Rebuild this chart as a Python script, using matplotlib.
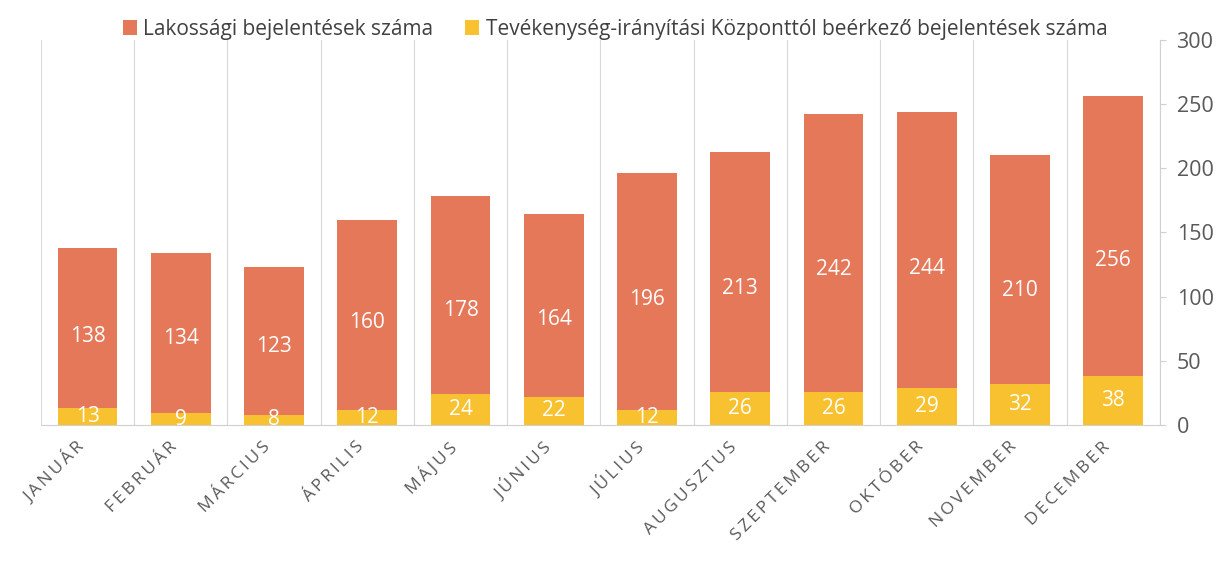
import matplotlib.pyplot as plt
import matplotlib.transforms as mtransforms
import numpy as np

# havi adatok
honapok = ['JANUÁR', 'FEBRUÁR', 'MÁRCIUS', 'ÁPRILIS', 'MÁJUS', 'JÚNIUS',
           'JÚLIUS', 'AUGUSZTUS', 'SZEPTEMBER', 'OKTÓBER', 'NOVEMBER', 'DECEMBER']
lakossagi = [138, 134, 123, 160, 178, 164, 196, 213, 242, 244, 210, 256]
kozponti = [13, 9, 8, 12, 24, 22, 12, 26, 26, 29, 32, 38]

narancs = '#E6785A'
sarga = '#F8C12F'
szurke = '#595959'

plt.rcParams['font.family'] = ['Open Sans', 'DejaVu Sans']

fig = plt.figure(figsize=(12.3, 5.78), dpi=100)
ax = fig.add_axes([0.0333, 0.2647, 0.9097, 0.6663])

x = np.arange(len(honapok))
b1 = ax.bar(x, lakossagi, width=0.64, color=narancs, label='Lakossági bejelentések száma', zorder=2)
b2 = ax.bar(x, kozponti, width=0.64, color=sarga,
            label='Tevékenység-irányítási Központtól beérkező bejelentések száma', zorder=3)

for i in range(len(x)):
    ax.text(x[i], lakossagi[i] / 2, str(lakossagi[i]), ha='center', va='center',
            color='white', fontsize=15, zorder=4)
    ax.text(x[i], kozponti[i] / 2, str(kozponti[i]), ha='center', va='center',
            color='white', fontsize=15, zorder=4)

ax.set_xlim(-0.5, len(honapok) - 0.5)
ax.set_ylim(0, 300)
ax.set_yticks(np.arange(0, 301, 50))
ax.yaxis.tick_right()
ax.tick_params(axis='y', labelsize=15.5, labelcolor=szurke, length=4, color='#D0D0D0', pad=8)

# szétterített betűk a hónapneveknél
cimkek = ['\u2009'.join(h) for h in honapok]
ax.set_xticks(x)
ax.set_xticklabels(cimkek, rotation=45, ha='right', va='center', rotation_mode='anchor',
                   fontsize=12.5, color=szurke)
ax.tick_params(axis='x', length=0, pad=14)
eltol = mtransforms.ScaledTranslation(-0.06, 0, fig.dpi_scale_trans)
for lab in ax.get_xticklabels():
    lab.set_transform(lab.get_transform() + eltol)

ax.set_xticks(np.arange(-0.5, len(honapok), 1), minor=True)
ax.tick_params(axis='x', which='minor', length=0)
ax.grid(axis='x', which='minor', color='#D9D9D9', linewidth=0.8, zorder=0)

for s in ['top', 'left']:
    ax.spines[s].set_visible(False)
ax.spines['bottom'].set_color('#D0D0D0')
ax.spines['right'].set_color('#D0D0D0')

fig.legend(handles=[b1, b2], loc='upper center', bbox_to_anchor=(0.5, 1.0), ncol=2,
           frameon=False, fontsize=15, handlelength=0.7, handleheight=0.7,
           handletextpad=0.3, columnspacing=1.5, labelcolor='#404040')

fig.savefig('out.png', dpi=100)
